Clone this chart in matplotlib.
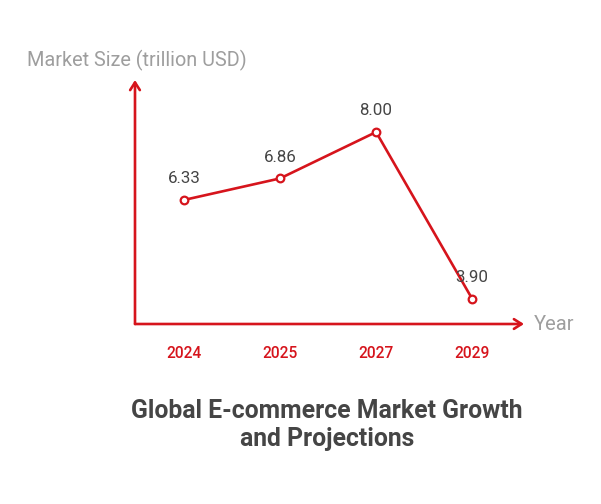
import matplotlib.pyplot as plt

plt.rcParams['font.family'] = ['Roboto', 'DejaVu Sans']

years = ['2024', '2025', '2027', '2029']
market_size = [6.33, 6.86, 8.00, 3.90]
value_labels = ['6.33', '6.86', '8.00', '3.90']

red = '#d6141c'
gray = '#9e9e9e'
dark = '#454545'

W, H = 601, 504
fig = plt.figure(figsize=(W / 100, H / 100), dpi=100)

# axes box placed where the arrows sit in the picture
x0, x1, y0, y1 = 135, 524, 324, 80
ax = fig.add_axes([x0 / W, (H - y0) / H, (x1 - x0) / W, (y0 - y1) / H])
ax.set_xlim(-0.51, 3.54)
ax.set_ylim(3.28, 9.28)
ax.axis('off')

xs = list(range(len(years)))
ax.plot(xs, market_size, color=red, lw=1.9, marker='o', ms=5.5,
        mfc='white', mec=red, mew=1.6, zorder=3)

for x, v, lab in zip(xs, market_size, value_labels):
    ax.annotate(lab, (x, v), xytext=(0, 10), textcoords='offset points',
                ha='center', va='bottom', fontsize=12.2, color=dark)

for x, lab in zip(xs, years):
    ax.annotate(lab, (x, 3.28), xytext=(0, -21), textcoords='offset points',
                ha='center', va='center', fontsize=11.2, color=red,
                fontweight='medium', annotation_clip=False)

# axis arrows
arrow = dict(arrowstyle='->,head_length=0.55,head_width=0.35', color=red, lw=1.9,
             shrinkA=0, shrinkB=0)
ax.annotate('', xy=(0, 1), xytext=(0, 0), xycoords='axes fraction',
            arrowprops=arrow, annotation_clip=False)
ax.annotate('', xy=(1, 0), xytext=(0, 0), xycoords='axes fraction',
            arrowprops=arrow, annotation_clip=False)

fig.text(27 / W, 1 - 60 / H, 'Market Size (trillion USD)', ha='left', va='center',
         fontsize=14.3, color=gray)
fig.text(534 / W, 1 - 324 / H, 'Year', ha='left', va='center',
         fontsize=14.5, color=gray)
fig.text(327 / W, 1 - 425 / H, 'Global E-commerce Market Growth\nand Projections',
         ha='center', va='center', fontsize=17.8, fontweight='bold', color=dark,
         linespacing=1.2)

fig.savefig('out.png', dpi=100, facecolor='white')
